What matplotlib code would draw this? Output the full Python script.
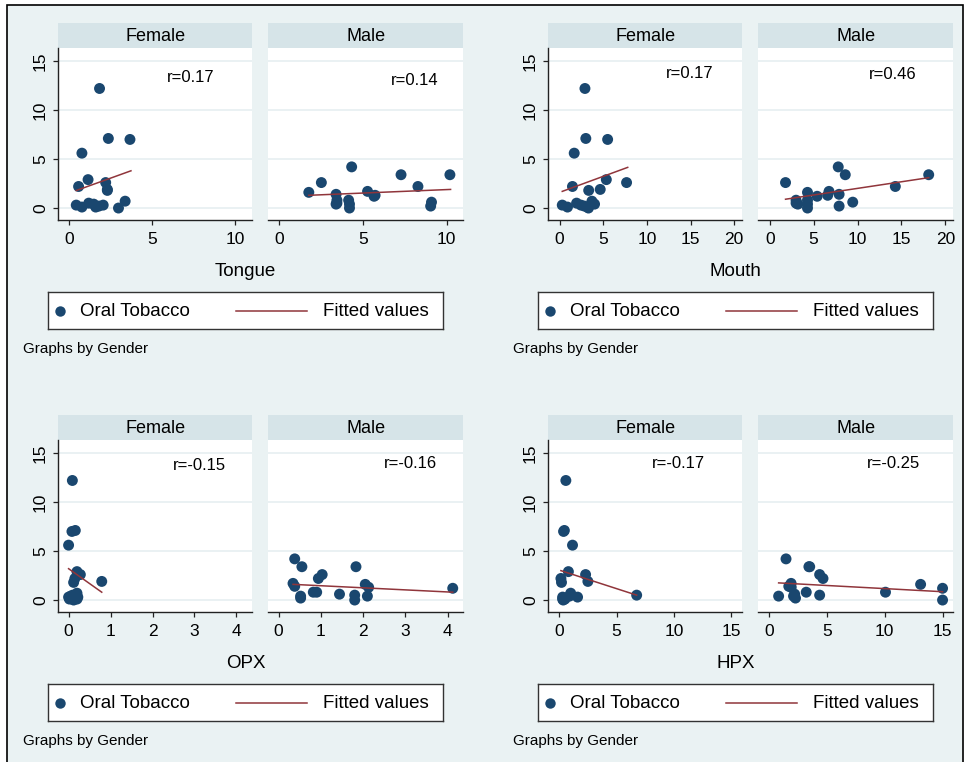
import matplotlib
matplotlib.use("Agg")
import matplotlib.pyplot as plt
from matplotlib.patches import Rectangle

plt.rcParams['font.family'] = ['Liberation Sans', 'DejaVu Sans']

# ---------------- data ----------------
sites = ['Tongue', 'Mouth', 'OPX', 'HPX']
genders = ['Female', 'Male']

female_tobacco = [12.2, 7.1, 7.0, 5.6, 2.9, 2.6, 2.2, 1.9, 1.8, 0.7, 0.5, 0.4, 0.3, 0.3, 0.2, 0.1, 0.1, 0.0]
female_tongue = [1.83, 2.36, 3.66, 0.77, 1.14, 2.2, 0.57, 2.3, 2.3, 3.37, 1.18, 1.48, 2.05, 0.43, 1.79, 0.77, 1.6, 2.97]
female_mouth = [2.9, 3.0, 5.5, 1.67, 5.35, 7.67, 1.47, 4.65, 3.33, 3.7, 1.94, 4.0, 2.44, 0.3, 2.83, 0.9, 3.2, 3.3]
female_opx = [0.09, 0.16, 0.08, 0.0, 0.2, 0.28, 0.15, 0.79, 0.12, 0.2, 0.1, 0.05, 0.22, 0.0, 0.18, 0.02, 0.2, 0.12]
female_hpx = [0.58, 0.45, 0.38, 1.16, 0.8, 2.3, 0.15, 2.5, 0.2, 1.0, 6.75, 0.9, 1.6, 0.3, 0.45, 0.3, 0.5, 0.35]

male_tobacco = [4.2, 3.4, 3.4, 2.6, 2.2, 1.7, 1.6, 1.4, 1.3, 1.2, 0.8, 0.8, 0.6, 0.5, 0.4, 0.4, 0.2, 0.0]
male_tongue = [4.33, 7.28, 10.2, 2.52, 8.29, 5.28, 1.77, 3.4, 5.73, 5.67, 3.45, 4.15, 9.1, 3.45, 4.2, 3.4, 9.05, 4.2]
male_mouth = [7.8, 8.6, 18.1, 1.8, 14.3, 6.75, 4.3, 7.9, 6.6, 5.4, 3.0, 4.3, 9.45, 3.0, 4.3, 3.2, 7.9, 4.3]
male_opx = [0.38, 0.55, 1.83, 1.03, 0.94, 0.34, 2.05, 0.38, 2.13, 4.12, 0.82, 0.9, 1.44, 1.8, 0.52, 2.1, 0.52, 1.8]
male_hpx = [1.45, 3.43, 3.5, 4.36, 4.65, 1.89, 13.1, 1.69, 1.9, 15.0, 3.2, 10.06, 2.2, 4.36, 0.81, 2.1, 2.27, 15.0]

# fitted values (endpoints of the linear fit)
female_tongue_fit_x = [0.43, 3.72]
female_tongue_fit_y = [1.79, 3.80]
male_tongue_fit_x = [1.77, 10.24]
male_tongue_fit_y = [1.30, 1.90]
female_mouth_fit_x = [0.30, 7.80]
female_mouth_fit_y = [1.70, 4.15]
male_mouth_fit_x = [1.80, 18.10]
male_mouth_fit_y = [0.90, 3.10]
female_opx_fit_x = [0.0, 0.79]
female_opx_fit_y = [3.20, 0.80]
male_opx_fit_x = [0.34, 4.12]
male_opx_fit_y = [1.60, 0.80]
female_hpx_fit_x = [0.15, 6.75]
female_hpx_fit_y = [3.00, 0.50]
male_hpx_fit_x = [0.81, 15.0]
male_hpx_fit_y = [1.75, 0.85]

female_r = ['r=0.17', 'r=0.17', 'r=-0.15', 'r=-0.17']
male_r = ['r=0.14', 'r=0.46', 'r=-0.16', 'r=-0.25']

x_ticks = [[0, 5, 10], [0, 5, 10, 15, 20], [0, 1, 2, 3, 4], [0, 5, 10, 15]]
y_ticks = [0, 5, 10, 15]
legend_labels = ['Oral Tobacco', 'Fitted values']
note_text = 'Graphs by Gender'

# ---------------- style / layout ----------------
W, H = 965, 762
BG = '#eaf2f3'
HEAD = '#d6e4e8'
NAVY = '#1a476f'
MAROON = '#90353b'
GRID = '#e6eff1'
AX = '#222222'

xlims = [(-0.65, 11.0), (-1.3, 20.9), (-0.245, 4.37), (-0.95, 15.93)]
ylim = (-1.22, 16.3)
offsets = [(0, 0), (490, 0), (0, 392), (490, 392)]
r_pos_f = [(0.56, 0.83), (0.607, 0.854), (0.593, 0.856), (0.533, 0.866)]
r_pos_m = [(0.627, 0.815), (0.569, 0.85), (0.593, 0.866), (0.556, 0.866)]

data_x = {
    ('Female', 'Tongue'): female_tongue, ('Male', 'Tongue'): male_tongue,
    ('Female', 'Mouth'): female_mouth, ('Male', 'Mouth'): male_mouth,
    ('Female', 'OPX'): female_opx, ('Male', 'OPX'): male_opx,
    ('Female', 'HPX'): female_hpx, ('Male', 'HPX'): male_hpx,
}
fit = {
    ('Female', 'Tongue'): (female_tongue_fit_x, female_tongue_fit_y),
    ('Male', 'Tongue'): (male_tongue_fit_x, male_tongue_fit_y),
    ('Female', 'Mouth'): (female_mouth_fit_x, female_mouth_fit_y),
    ('Male', 'Mouth'): (male_mouth_fit_x, male_mouth_fit_y),
    ('Female', 'OPX'): (female_opx_fit_x, female_opx_fit_y),
    ('Male', 'OPX'): (male_opx_fit_x, male_opx_fit_y),
    ('Female', 'HPX'): (female_hpx_fit_x, female_hpx_fit_y),
    ('Male', 'HPX'): (male_hpx_fit_x, male_hpx_fit_y),
}
data_y = {'Female': female_tobacco, 'Male': male_tobacco}
r_text = {'Female': female_r, 'Male': male_r}
r_pos = {'Female': r_pos_f, 'Male': r_pos_m}


def rect(x0, y0, x1, y1):
    return [x0 / W, 1 - y1 / H, (x1 - x0) / W, (y1 - y0) / H]


fig = plt.figure(figsize=(W / 100, H / 100), dpi=100)
fig.patch.set_facecolor('white')
fig.add_artist(Rectangle((7 / W, -0.05), (963 - 7) / W, 1 - 5 / H + 0.05,
                         transform=fig.transFigure, facecolor=BG,
                         edgecolor='black', lw=1.2, zorder=-5))

panel_x = {'Female': (58.3, 252.0), 'Male': (268.3, 463.3)}
HEAD_Y = (22.7, 48.3)
PLOT_Y = (48.3, 220.0)

for i, site in enumerate(sites):
    dx, dy = offsets[i]
    for g in genders:
        x0, x1 = panel_x[g]
        # header strip
        hax = fig.add_axes(rect(x0 + dx, HEAD_Y[0] + dy, x1 + dx, HEAD_Y[1] + dy))
        hax.set_facecolor(HEAD)
        hax.set_xticks([]); hax.set_yticks([])
        for s in hax.spines.values():
            s.set_visible(False)
        hax.text(0.5, 0.47, g, ha='center', va='center', fontsize=13,
                 transform=hax.transAxes, color='black')
        # plot panel
        ax = fig.add_axes(rect(x0 + dx, PLOT_Y[0] + dy, x1 + dx, PLOT_Y[1] + dy))
        ax.set_facecolor('white')
        ax.set_xlim(*xlims[i]); ax.set_ylim(*ylim)
        ax.set_yticks(y_ticks)
        ax.set_xticks(x_ticks[i])
        ax.grid(axis='y', color=GRID, lw=1.2, zorder=0)
        ax.set_axisbelow(True)
        for s in ['top', 'right']:
            ax.spines[s].set_visible(False)
        ax.spines['bottom'].set_color(AX); ax.spines['bottom'].set_linewidth(1.0)
        if g == 'Female':
            ax.spines['left'].set_color(AX); ax.spines['left'].set_linewidth(1.0)
            ax.tick_params(axis='y', direction='out', length=3.5, width=0.9,
                           colors=AX, labelcolor='black', labelsize=12.5, pad=4)
            for lab in ax.get_yticklabels():
                lab.set_rotation(90); lab.set_va('center')
        else:
            ax.spines['left'].set_visible(False)
            ax.tick_params(axis='y', length=0, labelleft=False)
        ax.tick_params(axis='x', direction='out', length=3.5, width=0.9,
                       colors=AX, labelcolor='black', labelsize=12.5, pad=5)
        xs = data_x[(g, site)]
        ax.scatter(xs, data_y[g], s=62, color=NAVY, edgecolors='none', zorder=3)
        fx, fy = fit[(g, site)]
        ax.plot(fx, fy, color=MAROON, lw=1.1, zorder=4)
        px, py = r_pos[g][i]
        ax.text(px, py, r_text[g][i], transform=ax.transAxes, ha='left', va='center',
                fontsize=12, color='black')

    # x title
    fig.text((245.5 + dx) / W, 1 - (271.7 + dy) / H, site, ha='center', va='center',
             fontsize=13.5)
    # legend box
    lx0, ly0, lx1, ly1 = 48.3 + dx, 291.7 + dy, 443.3 + dx, 329.3 + dy
    lax = fig.add_axes(rect(lx0, ly0, lx1, ly1))
    lax.set_facecolor('white')
    lax.set_xlim(48.3, 443.3); lax.set_ylim(329.3, 291.7)
    lax.set_xticks([]); lax.set_yticks([])
    for s in lax.spines.values():
        s.set_color('#333333'); s.set_linewidth(1.0)
    lax.plot([60], [310.5], 'o', color=NAVY, ms=7.5, mec='none')
    lax.text(80, 311.5, legend_labels[0], ha='left', va='center', fontsize=13.5)
    lax.plot([236, 307], [310.5, 310.5], color=MAROON, lw=1.1)
    lax.text(323, 311.5, legend_labels[1], ha='left', va='center', fontsize=13.5)
    # note
    fig.text((22.7 + dx) / W, 1 - (349.3 + dy) / H, note_text, ha='left', va='center',
             fontsize=11)

fig.savefig('out.png', dpi=100, facecolor=fig.get_facecolor())
